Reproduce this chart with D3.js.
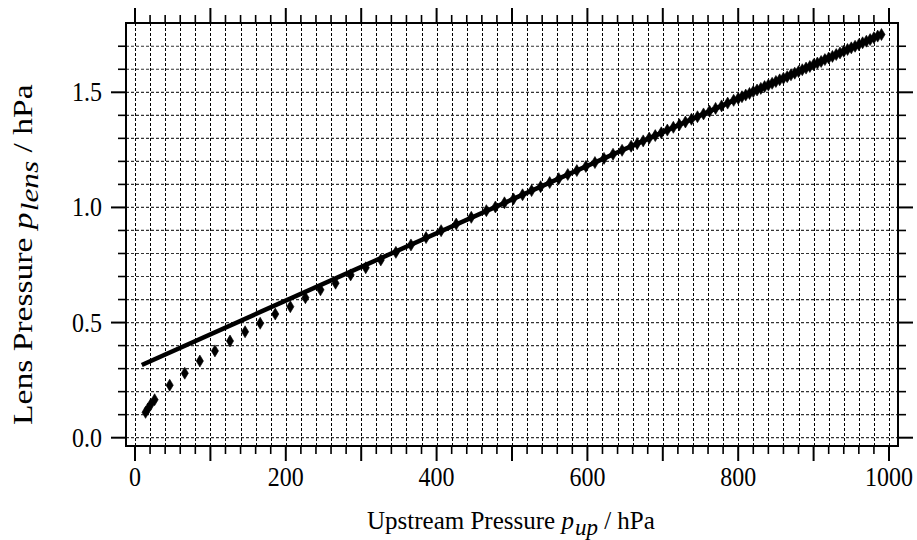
<!DOCTYPE html>
<html>
<head>
<meta charset="utf-8">
<script src="https://cdn.jsdelivr.net/npm/d3@7"></script>
<style>
  body { margin: 0; background: #fff; }
  svg { font-family: "Liberation Serif", "Times New Roman", serif; }
</style>
</head>
<body>
<div id="chart"></div>
<script>
// measured points (upstream vs lens pressure, hPa)
const pUp = [14, 17, 21, 26, 46, 66, 86, 106, 126, 146, 166, 186, 206, 226, 246, 266, 286, 306, 326, 346,
  366, 386, 406, 426, 446, 466, 478, 490, 502, 514, 526, 538, 550, 562, 574, 586, 598, 610, 622, 634,
  646, 658, 666, 674, 682, 690, 698, 706, 714, 722, 730, 738, 746, 754, 762, 770, 778, 786, 794, 800,
  805, 810, 815, 820, 825, 830, 835, 840, 845, 850, 855, 860, 865, 870, 875, 880, 885, 890, 895, 900,
  905, 910, 915, 920, 925, 930, 935, 940, 945, 950, 955, 960, 965, 970, 975, 980, 985, 990];
const pLens = [0.110, 0.125, 0.145, 0.165, 0.228, 0.280, 0.333, 0.377, 0.420, 0.460, 0.497, 0.537, 0.569, 0.608, 0.642, 0.671, 0.707, 0.738, 0.772, 0.805,
  0.837, 0.869, 0.899, 0.928, 0.957, 0.986, 1.002, 1.020, 1.037, 1.055, 1.073, 1.090, 1.108, 1.125, 1.143, 1.160, 1.178, 1.195, 1.213, 1.231,
  1.248, 1.266, 1.277, 1.289, 1.301, 1.312, 1.324, 1.336, 1.348, 1.359, 1.371, 1.383, 1.394, 1.406, 1.418, 1.430, 1.441, 1.453, 1.465, 1.473,
  1.481, 1.488, 1.495, 1.503, 1.510, 1.517, 1.525, 1.532, 1.539, 1.547, 1.554, 1.561, 1.568, 1.576, 1.583, 1.590, 1.598, 1.605, 1.612, 1.620,
  1.627, 1.634, 1.642, 1.649, 1.656, 1.664, 1.671, 1.678, 1.686, 1.693, 1.700, 1.707, 1.715, 1.722, 1.729, 1.737, 1.744, 1.751];

// linear fit line
const fitX = [9, 992];
const fitY = [0.316, 1.754];

const xTicks = d3.range(0, 1001, 20);
const xLabels = [0, 200, 400, 600, 800, 1000];
const yTicks = d3.range(0, 18).map(i => i / 10);
const yLabels = [0.0, 0.5, 1.0, 1.5];

let W = 917, H = 540;
let frameL = 126, frameR = 898, frameT = 23, frameB = 446;

let svg = d3.select("#chart").append("svg")
  .attr("width", W)
  .attr("height", H);

let x = d3.scaleLinear().domain([0, 1000]).range([135, 889]);
let y = d3.scaleLinear().domain([0, 1.5]).range([437.7, 92.3]);

// grid
let grid = svg.append("g");
grid.selectAll(".vgrid")
  .data(xTicks)
  .enter().append("line")
  .attr("x1", d => Math.round(x(d)) + 0.5)
  .attr("x2", d => Math.round(x(d)) + 0.5)
  .attr("y1", frameT)
  .attr("y2", frameB)
  .attr("stroke", "#000")
  .attr("stroke-width", 1)
  .attr("stroke-dasharray", "3,2");
grid.selectAll(".hgrid")
  .data(yTicks)
  .enter().append("line")
  .attr("x1", frameL)
  .attr("x2", frameR)
  .attr("y1", d => y(d))
  .attr("y2", d => y(d))
  .attr("stroke", "#333")
  .attr("stroke-width", 1.2)
  .attr("stroke-dasharray", "3,2");

// ticks
function isMajorX(d) { return d % 100 === 0; }
function isMajorY(d) { return Math.round(d * 10) % 5 === 0; }

let ticks = svg.append("g").attr("stroke", "#000");
ticks.selectAll(".tb")
  .data(xTicks)
  .enter().append("line")
  .attr("x1", d => x(d)).attr("x2", d => x(d))
  .attr("y1", frameB).attr("y2", d => frameB + (isMajorX(d) ? 15 : 8))
  .attr("stroke-width", d => isMajorX(d) ? 2 : 1.6);
ticks.selectAll(".tt")
  .data(xTicks)
  .enter().append("line")
  .attr("x1", d => x(d)).attr("x2", d => x(d))
  .attr("y1", frameT).attr("y2", d => frameT - (isMajorX(d) ? 15 : 8))
  .attr("stroke-width", d => isMajorX(d) ? 2 : 1.6);
ticks.selectAll(".tl")
  .data(yTicks)
  .enter().append("line")
  .attr("y1", d => y(d)).attr("y2", d => y(d))
  .attr("x1", frameL).attr("x2", d => frameL - (isMajorY(d) ? 15 : 8))
  .attr("stroke-width", d => isMajorY(d) ? 2 : 1.6);
ticks.selectAll(".tr")
  .data(yTicks)
  .enter().append("line")
  .attr("y1", d => y(d)).attr("y2", d => y(d))
  .attr("x1", frameR).attr("x2", d => frameR + (isMajorY(d) ? 15 : 8))
  .attr("stroke-width", d => isMajorY(d) ? 2 : 1.6);

// frame
svg.append("rect")
  .attr("x", frameL).attr("y", frameT)
  .attr("width", frameR - frameL).attr("height", frameB - frameT)
  .attr("fill", "none")
  .attr("stroke", "#000")
  .attr("stroke-width", 2);

// tick labels (glyphs in the original are a bit taller than wide)
svg.selectAll(".xl")
  .data(xLabels)
  .enter().append("text")
  .attr("transform", d => "translate(" + x(d) + ",486) scale(1,1.1)")
  .attr("text-anchor", "middle")
  .attr("font-size", 24)
  .text(d => d);
svg.selectAll(".yl")
  .data(yLabels)
  .enter().append("text")
  .attr("transform", d => "translate(102," + (y(d) + 9) + ") scale(1,1.1)")
  .attr("text-anchor", "end")
  .attr("font-size", 24)
  .text(d => d.toFixed(1));

// axis titles
let xt = svg.append("text")
  .attr("x", 367).attr("y", 529)
  .attr("font-size", 25);
xt.append("tspan").text("Upstream Pressure ");
xt.append("tspan").attr("font-style", "italic").text("p");
xt.append("tspan").attr("font-style", "italic").attr("font-size", 23).attr("dy", 6).attr("dx", 1).text("up");
xt.append("tspan").attr("dy", -6).text(" / hPa");

// y title is stretched along its length in the original
let yt = svg.append("text")
  .attr("transform", "translate(32,425) rotate(-90) scale(1.2,1)")
  .attr("font-size", 28);
yt.append("tspan").text("Lens Pressure ");
yt.append("tspan").attr("font-style", "italic").text("p");
yt.append("tspan").attr("font-style", "italic").attr("font-size", 26).attr("dy", 6).attr("dx", 1).text("lens");
yt.append("tspan").attr("dy", -6).text(" / hPa");

// fit line
let line = d3.line().x(d => x(d[0])).y(d => y(d[1]));
svg.append("path")
  .datum(d3.zip(fitX, fitY))
  .attr("d", line)
  .attr("fill", "none")
  .attr("stroke", "#000")
  .attr("stroke-width", 4.5);

// diamond markers
svg.selectAll(".pt")
  .data(d3.zip(pUp, pLens))
  .enter().append("path")
  .attr("transform", d => "translate(" + x(d[0]) + "," + y(d[1]) + ")")
  .attr("d", "M0,-6L3.6,0L0,6L-3.6,0Z")
  .attr("fill", "#000")
  .attr("stroke", "#000")
  .attr("stroke-width", 0.6);
</script>
</body>
</html>
